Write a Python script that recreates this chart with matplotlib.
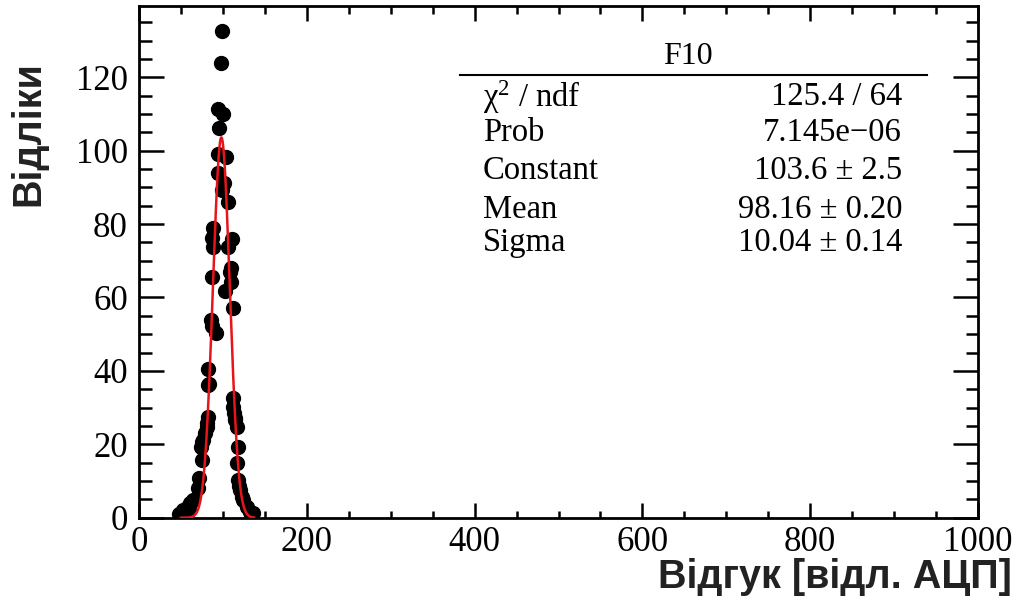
import numpy as np
import matplotlib
matplotlib.use("Agg")
import matplotlib.pyplot as plt
from matplotlib.ticker import MultipleLocator

# ---- data ----
bin_x = [48, 50.8, 52, 52.7, 55, 56, 58, 58.7, 60, 60.7, 64.6, 70.6, 71.8,
         73.8, 74.6, 75.4, 76.5, 78.6, 80.6, 81.5, 82.5, 82.8, 83.3, 82.0,
         85.4, 86.5, 92.0, 86.8, 87.7, 87.3, 88.3, 93.7, 94.4, 95.6, 94.2,
         97.3, 99.2, 100.4, 98.5, 101.5, 103.5, 105.6, 106.3, 110.4, 109.5,
         109.0, 110.0, 102.4, 112.1, 112.1, 112.6, 113.6, 114.3, 115.0, 116.3,
         118.2, 116.3, 118.2, 119.5, 120.2, 122.3, 124.2, 128.2, 132.1, 135.7]
counts = [1.0, 1.2, 2.0, 1.6, 1.0, 2.0, 3.0, 3.0, 2.0, 3.9, 4.8, 8.0, 10.7,
          19.3, 20.7, 15.7, 21.2, 23.0, 24.8, 25.7, 27.5, 36.2, 36.4, 40.5,
          53.9, 52.1, 50.3, 65.5, 73.8, 76.1, 78.9, 99.1, 94.0, 106.1, 111.3,
          123.9, 132.6, 110.0, 89.3, 91.1, 98.2, 86.1, 73.8, 75.9, 68.0,
          67.0, 64.3, 61.8, 57.1, 32.5, 30.2, 28.4, 27.1, 26.6, 24.8,
          19.3, 14.8, 10.3, 8.5, 7.5, 5.7, 4.8, 3.0, 1.6, 1.3]

fit_constant = 103.6
fit_mean = 98.16
fit_sigma = 10.04
fit_range = (50, 137)

stats_title = "F10"
stats_names = ["\u03c7$^{2}$ / ndf", "Prob", "Constant", "Mean", "Sigma"]
stats_values = ["125.4 / 64", "7.145e\u221206", "103.6 \u00b1 2.5",
                "98.16 \u00b1 0.20", "10.04 \u00b1 0.14"]

x_label = "Відгук [відл. АЦП]"
y_label = "Відліки"

# ---- figure ----
W, H = 1022, 607
plt.rcParams["mathtext.fontset"] = "custom"
plt.rcParams["mathtext.rm"] = "Liberation Serif"
plt.rcParams["mathtext.it"] = "Liberation Serif:italic"

fig = plt.figure(figsize=(W / 100, H / 100), dpi=100)
ax = fig.add_axes([139 / W, 1 - 517.7 / H, (978 - 139) / W, (517.7 - 6) / H])

serif = ["Liberation Serif", "DejaVu Serif"]

ax.plot(bin_x, counts, "o", color="black", ms=10, mec="black", zorder=2)

xf = np.linspace(fit_range[0], fit_range[1], 600)
yf = fit_constant * np.exp(-0.5 * ((xf - fit_mean) / fit_sigma) ** 2)
ax.plot(xf, yf, color="#e8141b", lw=1.8, zorder=3)

ax.set_xlim(0, 1000)
ax.set_ylim(0, 139.4)

ax.xaxis.set_major_locator(MultipleLocator(200))
ax.xaxis.set_minor_locator(MultipleLocator(50))
ax.yaxis.set_major_locator(MultipleLocator(20))
ax.yaxis.set_minor_locator(MultipleLocator(5))

ax.tick_params(which="both", direction="in", top=True, right=True, width=1.8,
               colors="black")
ax.tick_params(axis="x", which="major", length=10.8, pad=6)
ax.tick_params(axis="x", which="minor", length=5.4)
ax.tick_params(axis="y", which="major", length=18, pad=8)
ax.tick_params(axis="y", which="minor", length=9)

for lab in ax.get_xticklabels() + ax.get_yticklabels():
    lab.set_fontfamily(serif)
    lab.set_fontsize(25)

for sp in ax.spines.values():
    sp.set_linewidth(2)

# axis titles
sans = ["Liberation Sans", "DejaVu Sans"]
fig.text(1012 / W, 1 - 588 / H, x_label, ha="right", va="baseline",
         fontsize=28.5, fontweight="bold", family=sans, color="#222222")
fig.text(28 / W, 1 - 61 / H, y_label, ha="center", va="top", rotation=90,
         fontsize=28.5, fontweight="bold", family=sans, color="#222222")

# stats box
fig.text(688 / W, 1 - 57 / H, stats_title, ha="center", va="center",
         fontsize=23, family=serif)
fig.add_artist(plt.Line2D([460 / W, 927 / W], [1 - 75 / H, 1 - 75 / H],
                          color="black", lw=1.5, transform=fig.transFigure))
row_y = [97, 133, 171, 210, 243]
for yy, nm, val in zip(row_y, stats_names, stats_values):
    fig.text(483 / W, 1 - yy / H, nm, ha="left", va="center", fontsize=23.5,
             family=serif)
    fig.text(902 / W, 1 - yy / H, val, ha="right", va="center", fontsize=23.5,
             family=serif)

fig.savefig("out.png", dpi=100)
